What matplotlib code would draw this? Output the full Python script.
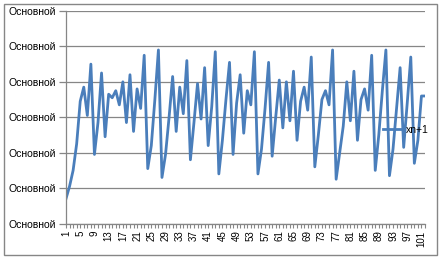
import matplotlib
matplotlib.use("Agg")
import matplotlib.pyplot as plt
from matplotlib.patches import Rectangle

# iterations x(n+1)
n_values = list(range(1, 103))
xn1 = [
    0.14, 0.21, 0.30, 0.45, 0.69, 0.77, 0.61, 0.90, 0.39, 0.57,
    0.85, 0.49, 0.73, 0.71, 0.75, 0.67, 0.80, 0.57, 0.84, 0.52,
    0.76, 0.65, 0.95, 0.31, 0.44, 0.70, 0.98, 0.26, 0.39, 0.60,
    0.83, 0.52, 0.77, 0.62, 0.92, 0.36, 0.57, 0.79, 0.59, 0.88,
    0.44, 0.66, 0.97, 0.28, 0.47, 0.70, 0.91, 0.39, 0.68, 0.84,
    0.51, 0.75, 0.67, 0.97, 0.28, 0.42, 0.65, 0.91, 0.38, 0.60,
    0.81, 0.54, 0.80, 0.58, 0.86, 0.47, 0.69, 0.77, 0.64, 0.94,
    0.32, 0.50, 0.70, 0.75, 0.67, 0.98, 0.25, 0.40, 0.55, 0.80,
    0.58, 0.86, 0.47, 0.70, 0.76, 0.64, 0.95, 0.30, 0.50, 0.75,
    0.98, 0.27, 0.42, 0.65, 0.88, 0.43, 0.68, 0.94, 0.34, 0.47,
    0.72, 0.72,
]
y_ticks = [0.0, 0.2, 0.4, 0.6, 0.8, 1.0, 1.2]
y_labels = ["Основной"] * len(y_ticks)
x_labels = [str(n) for n in n_values[::4]]
series_name = "xn+1"

grid_col = "#868686"
line_col = "#4A7EBB"

fig = plt.figure(figsize=(4.41, 2.59), dpi=100)
ax = fig.add_axes([66 / 441, 35.5 / 259, 359 / 441, 212.5 / 259])

ax.plot(n_values, xn1, color=line_col, lw=2.0, label=series_name, solid_joinstyle="round")

ax.set_xlim(n_values[0], n_values[-1])
ax.set_ylim(y_ticks[0], y_ticks[-1])

ax.set_yticks(y_ticks)
ax.set_yticklabels(y_labels, fontsize=7.5, family="Liberation Sans")
ax.set_xticks(n_values, minor=True)
ax.set_xticks(n_values[::4])
ax.set_xticklabels(x_labels, rotation=90, fontsize=7, family="Liberation Sans")

ax.yaxis.grid(True, color=grid_col, lw=0.9)
ax.set_axisbelow(True)
for side in ("top", "right"):
    ax.spines[side].set_visible(False)
for side in ("left", "bottom"):
    ax.spines[side].set_color(grid_col)
    ax.spines[side].set_linewidth(0.9)
ax.tick_params(axis="y", length=5, width=0.9, color=grid_col, pad=2)
ax.tick_params(axis="x", which="both", length=3, width=0.8, color=grid_col, pad=2)

ax.legend(loc="center left", bbox_to_anchor=(383 / 441, 1 - 130 / 259),
          bbox_transform=fig.transFigure, frameon=False, fontsize=7.5,
          handlelength=1.9, handletextpad=0.3, borderpad=0, borderaxespad=0,
          prop={"family": "Liberation Sans", "size": 7.5})

# outer chart border
fig.patches.append(Rectangle((4 / 441, 4 / 259), 433 / 441, 251 / 259,
                             transform=fig.transFigure, fill=False,
                             edgecolor=grid_col, lw=1.0))

fig.savefig("out.png", dpi=100)
